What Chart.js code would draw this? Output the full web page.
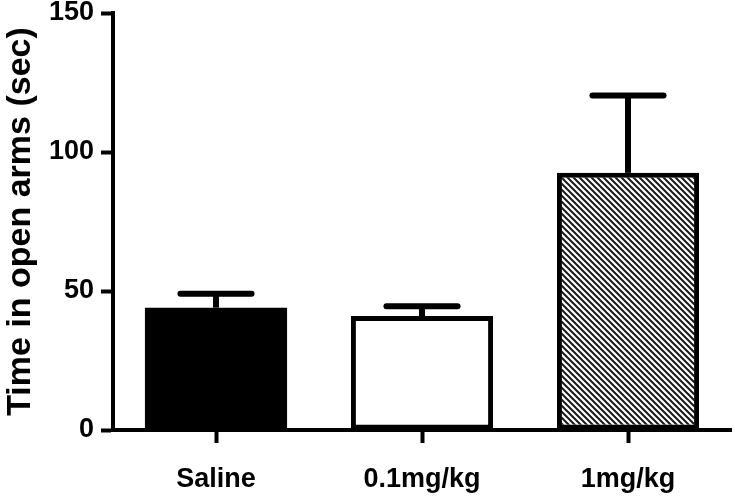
<!DOCTYPE html>
<html>
<head>
<meta charset="utf-8">
<script src="https://cdn.jsdelivr.net/npm/chart.js@4.4.1/dist/chart.umd.min.js"></script>
<style>
html,body{margin:0;padding:0;background:#fff;}
#wrap{width:735px;height:496px;position:relative;}
</style>
</head>
<body>
<div id="wrap"><canvas id="c" width="735" height="496"></canvas></div>
<script>
const categories = ['Saline', '0.1mg/kg', '1mg/kg'];
const means = [44, 41, 92.5];
const errorTops = [49, 44.5, 120.3];
const yTicks = [0, 50, 100, 150];
const yTitle = 'Time in open arms (sec)';

function hatch() {
  const s = 6;
  const c = document.createElement('canvas');
  c.width = s; c.height = s;
  const g = c.getContext('2d');
  g.fillStyle = '#fff';
  g.fillRect(0, 0, s, s);
  g.strokeStyle = '#1a1a1a';
  g.lineWidth = 2;
  g.beginPath();
  g.moveTo(-1, -1); g.lineTo(s + 1, s + 1);
  g.moveTo(s - 1, -1); g.lineTo(s + 1, 1);
  g.moveTo(-1, s - 1); g.lineTo(1, s + 1);
  g.stroke();
  return g.createPattern(c, 'repeat');
}

const ctx = document.getElementById('c').getContext('2d');
const fills = ['#000000', '#ffffff', hatch()];

const errorBars = {
  id: 'errorBars',
  afterDatasetsDraw(chart) {
    const meta = chart.getDatasetMeta(0);
    const y = chart.scales.y;
    const g = chart.ctx;
    g.save();
    g.strokeStyle = '#000';
    meta.data.forEach((bar, i) => {
      const top = y.getPixelForValue(errorTops[i]);
      const half = bar.width * 0.25;
      g.lineWidth = 6;
      g.lineCap = 'butt';
      g.beginPath();
      g.moveTo(bar.x, bar.y);
      g.lineTo(bar.x, top);
      g.stroke();
      g.lineCap = 'round';
      g.beginPath();
      g.moveTo(bar.x - half, top);
      g.lineTo(bar.x + half, top);
      g.stroke();
    });
    g.restore();
  }
};

new Chart(ctx, {
  type: 'bar',
  data: {
    labels: categories,
    datasets: [{
      data: means,
      backgroundColor: fills,
      borderColor: '#000',
      borderWidth: [0, 5, 5],
      borderSkipped: false,
      barPercentage: 0.69,
      categoryPercentage: 1.0
    }]
  },
  options: {
    responsive: false,
    animation: false,
    devicePixelRatio: 1,
    layout: { padding: { left: 0, right: 4, top: 0, bottom: 0 } },
    plugins: { legend: { display: false }, tooltip: { enabled: false } },
    scales: {
      x: {
        offset: true,
        grid: { display: true, drawOnChartArea: false, drawTicks: true, tickLength: 13, tickWidth: 4, tickColor: '#000', offset: false },
        border: { display: true, color: '#000', width: 4 },
        ticks: { color: '#000', font: { family: 'Liberation Sans', weight: 'bold', size: 27 }, padding: 20, maxRotation: 0 },
        afterFit(scale) { scale.height = 66; }
      },
      y: {
        min: 0, max: 150,
        afterBuildTicks(scale) { scale.ticks = yTicks.map(v => ({ value: v })); },
        grid: { display: true, drawOnChartArea: false, drawTicks: true, tickLength: 12, tickWidth: 4, tickColor: '#000' },
        border: { display: true, color: '#000', width: 4 },
        ticks: { color: '#000', font: { family: 'Liberation Sans', weight: 'bold', size: 27 }, padding: 7 },
        title: { display: true, text: yTitle, color: '#000', font: { family: 'Liberation Sans', weight: 'bold', size: 34 }, padding: { top: 0, bottom: 0 } },
        afterFit(scale) { scale.width = 113; scale.paddingTop = 13; scale.paddingBottom = 0; }
      }
    }
  },
  plugins: [errorBars]
});
</script>
</body>
</html>
